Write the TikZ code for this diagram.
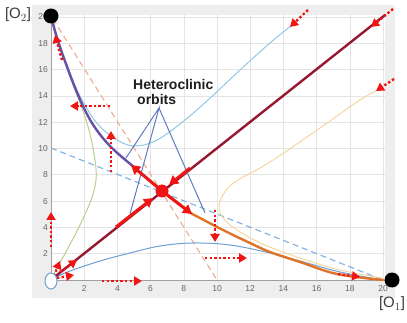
\documentclass[tikz,border=0pt]{standalone}
\usepackage{fontspec}
\setmainfont{Liberation Sans}
\usetikzlibrary{arrows.meta,shapes.geometric}
\definecolor{framegray}{RGB}{238,238,238}
\definecolor{gridgray}{RGB}{228,228,228}
\definecolor{axisgray}{RGB}{160,160,160}
\definecolor{ticktext}{RGB}{100,100,100}
\definecolor{cpurple}{RGB}{105,80,165}
\definecolor{corange}{RGB}{225,115,40}
\definecolor{cdarkred}{RGB}{150,25,50}
\definecolor{ccyan}{RGB}{145,200,230}
\definecolor{cyellow}{RGB}{245,215,160}
\definecolor{cgreen}{RGB}{180,210,140}
\definecolor{carch}{RGB}{110,160,210}
\definecolor{cdashblue}{RGB}{125,175,225}
\definecolor{cdashpink}{RGB}{240,170,145}
\definecolor{ctri}{RGB}{95,125,190}
\definecolor{cred}{RGB}{240,20,20}
\begin{document}
\begin{tikzpicture}[x=1pt,y=-1pt,
  thickcurve/.style={line width=2.4pt,line cap=round},
  thincurve/.style={line width=1pt},
  dashline/.style={line width=1.1pt,dash pattern=on 6pt off 4pt},
  reddot/.style={cred,line width=2.4pt,dash pattern=on 2.4pt off 2.2pt,-{Triangle[length=8pt,width=9pt]}},
  redthick/.style={cred,line width=3pt,-{Triangle[length=9pt,width=10pt]}},
  blackdot/.style={circle,fill=black,inner sep=0pt,minimum size=15pt},
  saddledot/.style={circle,fill=cred,inner sep=0pt,minimum size=13pt},
  tick/.style={font=\fontsize{8.5}{9}\selectfont,text=ticktext,inner sep=0pt},
  axislabel/.style={font=\fontsize{15}{16}\selectfont,text={rgb,255:red,60;green,60;blue,60},inner sep=0pt},
  heading/.style={font=\fontsize{14}{15}\selectfont\bfseries,text={rgb,255:red,30;green,30;blue,30},inner sep=0pt,anchor=base west}]
\useasboundingbox (0,0) rectangle (407,323);
% frame and plot area
\fill[framegray] (32,5) rectangle (395,298);
\fill[white] (51,15) rectangle (385,280);
\foreach \k in {1,...,10}{
  \draw[gridgray,line width=0.6pt] ({51+33.2*\k},15) -- ({51+33.2*\k},280);
  \draw[gridgray,line width=0.6pt] (51,{280-26.3*\k}) -- (385,{280-26.3*\k});
  \pgfmathtruncatemacro{\lab}{2*\k}
  \node[tick] (xt\k) at ({51+33.2*\k},289) {\lab};
  \node[tick,anchor=east] (yt\k) at (48,{280-26.3*\k}) {\lab};
}
\draw[axisgray,line width=1pt] (51,15) -- (51,280) -- (385,280);
% dashed nullclines
\draw[cdashblue,dashline] (51,148) -- (383,280);
\draw[cdashpink,dashline] (53,19) -- (217,280);
% key points
\coordinate (O2c) at (51,16);
\coordinate (O1c) at (392,280);
\coordinate (Sc) at (162,191);
\coordinate (Oc) at (51,281);
% thin trajectories
\draw[cgreen,thincurve] plot[smooth,tension=0.6] coordinates {(51,18) (59,45) (69,72) (79,100) (89,130) (95,160) (96,180) (91,200) (80,225) (67,250) (57,268) (52,278)};
\draw[carch,thincurve] plot[smooth,tension=0.6] coordinates {(52,279) (70,271) (100,261) (130,253) (160,246) (193,243) (230,245) (270,253) (300,261) (340,272) (383,280)};
\draw[ccyan,thincurve] plot[smooth,tension=0.6] coordinates {(52,18) (58,39) (67,65) (80,96) (96,122) (114,138) (133,146) (155,141) (180,124) (208,100) (240,70) (270,43) (292,25)};
\draw[cyellow,thincurve] plot[smooth,tension=0.6] coordinates {(382,278) (340,270) (300,258) (265,245) (240,232) (225,220) (219,208) (223,195) (235,182) (270,162) (320,128) (360,100) (380,89)};
% diagonal and heteroclinic orbits
\draw[cdarkred,thickcurve] (52,279) -- (385,15);
\draw[cpurple,thickcurve] plot[smooth,tension=0.6] coordinates {(O2c) (57,38) (66,64) (78,95) (92,123) (110,146) (135,168) (Sc)};
\draw[corange,thickcurve] plot[smooth,tension=0.6] coordinates {(Sc) (188,211) (200,218) (225,231) (250,243) (270,252) (300,262) (337,274) (383,280)};
% label and pointer lines
\node[heading] (lab1) at (133,90) {Heteroclinic};
\node[heading] (lab2) at (137,105) {orbits};
\coordinate (apex) at (159,108);
\coordinate (tA) at (126,158);
\coordinate (tB) at (130,214);
\coordinate (tC) at (205,213);
\draw[ctri,line width=1pt] (tA) -- (apex) -- (tB);
\draw[ctri,line width=1pt] (apex) -- (tC);
% saddle arrows
\draw[redthick] (Sc) -- (131,165);
\draw[redthick] (Sc) -- (192,214);
\draw[redthick] (190,168) -- (169,185);
\draw[redthick] (116,227) -- (153,198);
% dotted red arrows
\foreach \a/\b in {{(62,60)}/{(55,35)}, {(110,106)}/{(70,106)}, {(111,172)}/{(111,131)}, {(51,247)}/{(51,212)}, {(102,281)}/{(142,281)}, {(215,210)}/{(215,242)}, {(205,258)}/{(247,258)}, {(338,274)}/{(360,277)}, {(308,10)}/{(290,27)}, {(393,9)}/{(371,27)}, {(394,79)}/{(376,91)}, {(54,276)}/{(60,261)}, {(60,272)}/{(77,260)}, {(57,278)}/{(74,275)}}
  \draw[reddot] \a -- \b;
% point markers
\node[saddledot] (S) at (Sc) {};
\node[blackdot] (O2) at (O2c) {};
\node[blackdot] (O1) at (O1c) {};
\node[ellipse,draw=carch,fill=white,line width=1pt,minimum width=12pt,minimum height=16pt,inner sep=0pt] (O) at (Oc) {};
% axis labels
\node[axislabel] (lO2) at (18,15) {[O$_2$]};
\node[axislabel] (lO1) at (392,304) {[O$_1$]};
\end{tikzpicture}
\end{document}
